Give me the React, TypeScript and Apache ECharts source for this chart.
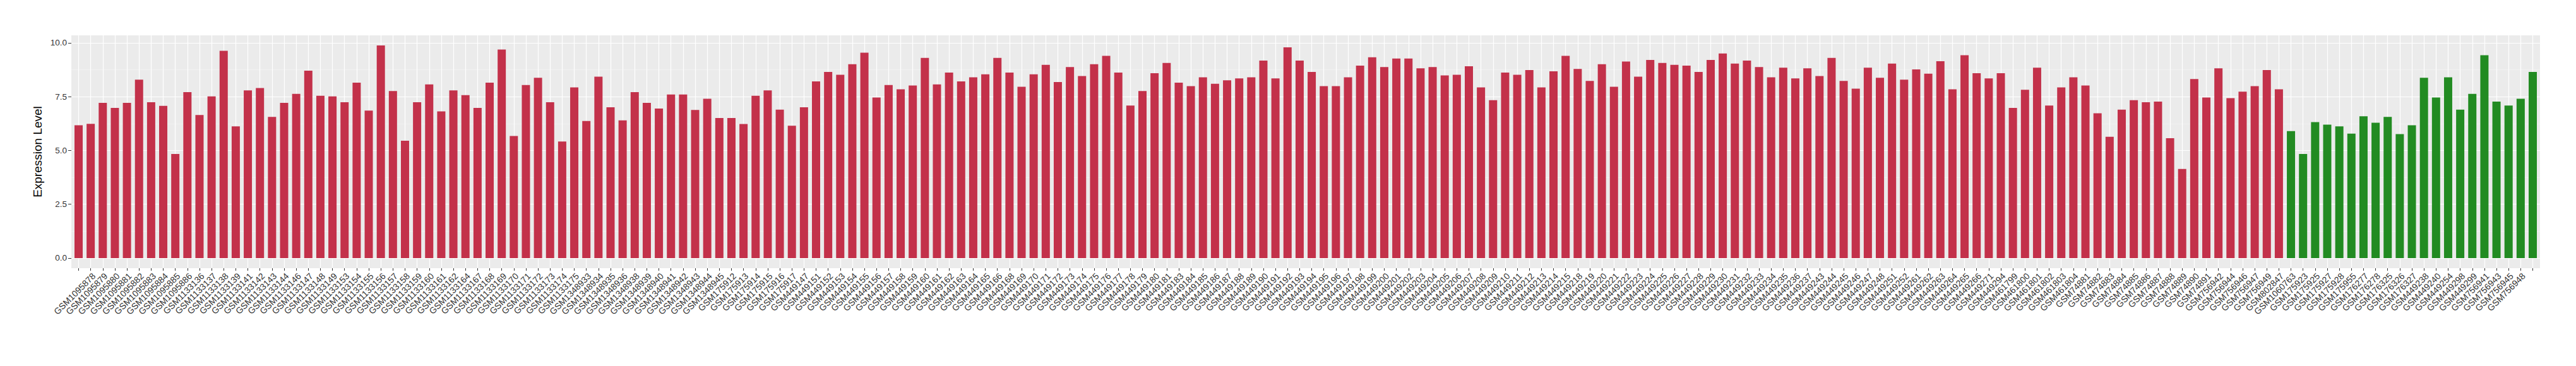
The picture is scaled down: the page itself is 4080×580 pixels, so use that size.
import React, { useEffect, useRef } from "react";
import * as echarts from "echarts";

const tumorSamples: string[] = [
  "GSM1095877", "GSM1095878", "GSM1095879", "GSM1095880", "GSM1095881", "GSM1095882", "GSM1095883", "GSM1095884", "GSM1095885", "GSM1095886",
  "GSM1133136", "GSM1133137", "GSM1133138", "GSM1133139", "GSM1133141", "GSM1133142", "GSM1133143", "GSM1133144", "GSM1133146", "GSM1133147",
  "GSM1133148", "GSM1133149", "GSM1133153", "GSM1133154", "GSM1133155", "GSM1133156", "GSM1133157", "GSM1133158", "GSM1133159", "GSM1133160",
  "GSM1133161", "GSM1133162", "GSM1133164", "GSM1133167", "GSM1133168", "GSM1133169", "GSM1133170", "GSM1133171", "GSM1133172", "GSM1133173",
  "GSM1133174", "GSM1133175", "GSM1348933", "GSM1348934", "GSM1348935", "GSM1348936", "GSM1348938", "GSM1348939", "GSM1348940", "GSM1348941",
  "GSM1348942", "GSM1348943", "GSM1348944", "GSM1348945", "GSM175912", "GSM175913", "GSM175914", "GSM175915", "GSM175916", "GSM175917",
  "GSM449147", "GSM449151", "GSM449152", "GSM449153", "GSM449154", "GSM449155", "GSM449156", "GSM449157", "GSM449158", "GSM449159",
  "GSM449160", "GSM449161", "GSM449162", "GSM449163", "GSM449164", "GSM449165", "GSM449166", "GSM449168", "GSM449169", "GSM449170",
  "GSM449171", "GSM449172", "GSM449173", "GSM449174", "GSM449175", "GSM449176", "GSM449177", "GSM449178", "GSM449179", "GSM449180",
  "GSM449181", "GSM449183", "GSM449184", "GSM449185", "GSM449186", "GSM449187", "GSM449188", "GSM449189", "GSM449190", "GSM449191",
  "GSM449192", "GSM449193", "GSM449194", "GSM449195", "GSM449196", "GSM449197", "GSM449198", "GSM449199", "GSM449200", "GSM449201",
  "GSM449202", "GSM449203", "GSM449204", "GSM449205", "GSM449206", "GSM449207", "GSM449208", "GSM449209", "GSM449210", "GSM449211",
  "GSM449212", "GSM449213", "GSM449214", "GSM449215", "GSM449218", "GSM449219", "GSM449220", "GSM449221", "GSM449222", "GSM449223",
  "GSM449224", "GSM449225", "GSM449226", "GSM449227", "GSM449228", "GSM449229", "GSM449230", "GSM449231", "GSM449232", "GSM449233",
  "GSM449234", "GSM449235", "GSM449236", "GSM449237", "GSM449243", "GSM449244", "GSM449245", "GSM449246", "GSM449247", "GSM449248",
  "GSM449251", "GSM449252", "GSM449261", "GSM449262", "GSM449263", "GSM449264", "GSM449265", "GSM449266", "GSM449271", "GSM449294",
  "GSM461799", "GSM461800", "GSM461801", "GSM461802", "GSM461803", "GSM461804", "GSM74881", "GSM74882", "GSM74883", "GSM74884",
  "GSM74885", "GSM74886", "GSM74887", "GSM74888", "GSM74889", "GSM74890", "GSM74891", "GSM756942", "GSM756944", "GSM756946",
  "GSM756947", "GSM756949", "GSM802847",
];

const tumorValues: number[] = [
  6.17, 6.24, 7.21, 6.98, 7.21, 8.29, 7.24, 7.07, 4.84, 7.71,
  6.65, 7.51, 9.63, 6.12, 7.79, 7.90, 6.56, 7.21, 7.63, 8.71,
  7.54, 7.51, 7.24, 8.15, 6.85, 9.88, 7.76, 5.45, 7.24, 8.07,
  6.82, 7.79, 7.57, 6.98, 8.15, 9.69, 5.67, 8.04, 8.38, 7.24,
  5.42, 7.93, 6.37, 8.43, 7.01, 6.40, 7.71, 7.21, 6.95, 7.60,
  7.60, 6.88, 7.40, 6.51, 6.51, 6.23, 7.54, 7.79, 6.90, 6.15,
  7.01, 8.21, 8.65, 8.52, 9.01, 9.54, 7.46, 8.04, 7.84, 8.02,
  9.30, 8.07, 8.62, 8.21, 8.40, 8.54, 9.30, 8.62, 7.96, 8.54,
  8.98, 8.18, 8.88, 8.46, 9.01, 9.40, 8.62, 7.09, 7.76, 8.59,
  9.07, 8.15, 7.99, 8.40, 8.10, 8.26, 8.35, 8.40, 9.18, 8.35,
  9.79, 9.18, 8.65, 7.99, 7.99, 8.40, 8.94, 9.33, 8.88, 9.27,
  9.27, 8.82, 8.88, 8.49, 8.52, 8.91, 7.93, 7.34, 8.62, 8.52,
  8.74, 7.93, 8.68, 9.40, 8.79, 8.23, 9.01, 7.96, 9.13, 8.43,
  9.21, 9.07, 8.98, 8.94, 8.65, 9.21, 9.51, 9.04, 9.18, 8.88,
  8.40, 8.85, 8.35, 8.82, 8.46, 9.30, 8.23, 7.87, 8.85, 8.38,
  9.04, 8.29, 8.77, 8.57, 9.15, 7.84, 9.43, 8.59, 8.35, 8.59,
  6.98, 7.82, 8.85, 7.09, 7.93, 8.40, 8.02, 6.73, 5.64, 6.90,
  7.34, 7.24, 7.27, 5.57, 4.14, 8.32, 7.46, 8.82, 7.43, 7.73,
  7.99, 8.74, 7.84,
];

const normalSamples: string[] = [
  "GSM1060763", "GSM175923", "GSM175925", "GSM175927", "GSM175928", "GSM175955", "GSM176277", "GSM176278", "GSM176325", "GSM176326",
  "GSM176327", "GSM449238", "GSM449240", "GSM449254", "GSM449298", "GSM449299", "GSM756941", "GSM756943", "GSM756945", "GSM756948",
  "GSM756950",
];

const normalValues: number[] = [
  5.90, 4.84, 6.32, 6.20, 6.12, 5.78, 6.59, 6.29, 6.56, 5.76,
  6.17, 8.38, 7.46, 8.40, 6.90, 7.63, 9.43, 7.27, 7.09, 7.40,
  8.65,
];

const yTicks: number[] = [0, 2.5, 5, 7.5, 10];
const yMinorTicks: number[] = [1.25, 3.75, 6.25, 8.75];

const RED = "#C3314A";
const GREEN = "#228B22";
const FONT = "'Liberation Sans', Arial, Helvetica, sans-serif";
const LABEL_SHIFT = 0.26;

export default function App() {
  const ref = useRef<HTMLDivElement>(null);

  useEffect(() => {
    if (!ref.current) return;
    const chart = echarts.init(ref.current, null, { renderer: "svg" });
    const categories = [...tumorSamples, ...normalSamples];
    const vals = [...tumorValues, ...normalValues];
    const idx = categories.map((_, i) => i);
    const data = vals.map((v, i) => ({
      value: [i, v],
      itemStyle: { color: i < tumorSamples.length ? RED : GREEN },
    }));

    chart.setOption({
      animation: false,
      backgroundColor: "#ffffff",
      textStyle: { fontFamily: FONT },
      grid: {
        left: 113,
        right: 57,
        top: 56,
        bottom: 155,
        show: true,
        backgroundColor: "#EBEBEB",
        borderWidth: 0,
      },
      xAxis: {
        type: "value",
        min: -0.6,
        max: categories.length - 0.4,
        axisLine: { show: false, onZero: false },
        axisTick: {
          show: true,
          customValues: idx,
          length: 4,
          lineStyle: { color: "#333333", width: 1 },
        },
        axisLabel: {
          customValues: idx.map((i) => i + LABEL_SHIFT),
          rotate: 45,
          margin: 10,
          fontSize: 14,
          color: "#333333",
          fontFamily: FONT,
          formatter: (v: number) => categories[Math.round(v - LABEL_SHIFT)] ?? "",
        },
        splitLine: { show: true, lineStyle: { color: "#ffffff", width: 1.2 } },
      },
      yAxis: [
        {
          type: "value",
          min: -0.47,
          max: 10.35,
          position: "left",
          axisLine: { show: false, onZero: false },
          axisTick: {
            show: true,
            customValues: yTicks,
            length: 5,
            lineStyle: { color: "#333333", width: 1 },
          },
          axisLabel: {
            customValues: yTicks,
            formatter: (v: number) => v.toFixed(1),
            fontSize: 13.5,
            margin: 7,
            color: "#333333",
            fontFamily: FONT,
          },
          splitLine: { show: true, lineStyle: { color: "#ffffff", width: 1.2 } },
          name: "Expression Level",
          nameLocation: "middle",
          nameGap: 38,
          nameRotate: 90,
          nameTextStyle: { fontSize: 19, color: "#000000", fontFamily: FONT },
        },
        {
          type: "value",
          min: -0.47,
          max: 10.35,
          position: "left",
          axisLine: { show: false, onZero: false },
          axisTick: { show: false, customValues: yMinorTicks },
          axisLabel: { show: false, customValues: yMinorTicks },
          splitLine: { show: true, lineStyle: { color: "#F7F7F7", width: 0.6 } },
        },
      ],
      series: [
        {
          type: "bar",
          data,
          barWidth: 13,
          yAxisIndex: 0,
          z: 3,
        },
      ],
    });

    return () => chart.dispose();
  }, []);

  return (
    <div
      ref={ref}
      style={{ position: "fixed", left: 0, top: 0, width: 4080, height: 580, background: "#fff" }}
    />
  );
}
